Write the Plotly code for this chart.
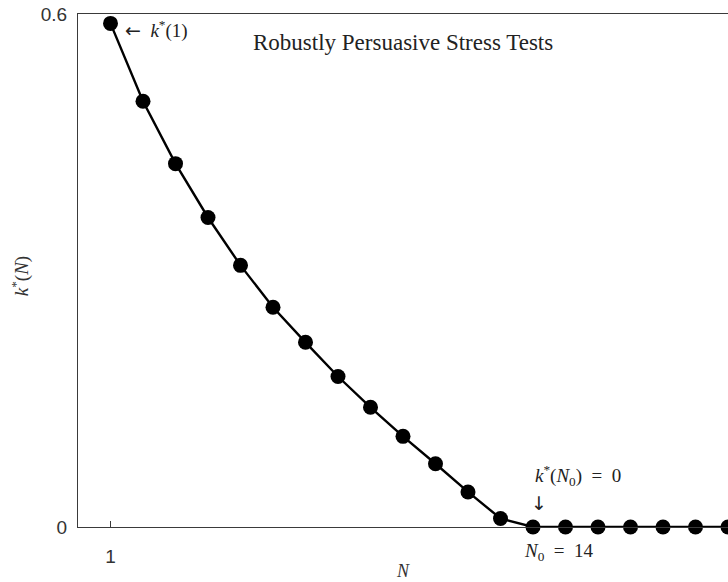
import plotly.graph_objects as go

N = list(range(1, 21))
k_star = [0.589, 0.498, 0.425, 0.362, 0.306, 0.257, 0.216, 0.176, 0.140, 0.106,
          0.074, 0.041, 0.010, 0, 0, 0, 0, 0, 0, 0]
x_ticks = [1]
x_tick_labels = ["1"]
y_ticks = [0, 0.6]
y_tick_labels = ["0", "0.6"]

serif = "Liberation Serif, Times New Roman, serif"
sans = "Liberation Sans, Arial, sans-serif"
axis_col = "#3a3a3a"
arrow_span = '<span style="font-family:DejaVu Sans">{}</span>'

fig = go.Figure()
fig.add_trace(go.Scatter(
    x=N, y=k_star, mode="lines+markers",
    line=dict(color="black", width=2.4),
    marker=dict(color="black", size=15),
    cliponaxis=False, showlegend=False,
))

common = dict(ticks="inside", ticklen=6, tickcolor=axis_col, tickwidth=1,
              showline=True, linecolor=axis_col, linewidth=1, mirror=True,
              showgrid=False, zeroline=False, automargin=False,
              tickfont=dict(family=sans, size=19, color="#333"))

fig.update_layout(
    width=728, height=582,
    margin=dict(l=78, r=0, t=14, b=55),
    plot_bgcolor="white", paper_bgcolor="white",
    xaxis=dict(range=[0, 20], tickvals=x_ticks, ticktext=x_tick_labels,
               ticklabelstandoff=12, **common),
    yaxis=dict(range=[0, 0.6], tickvals=y_ticks, ticktext=y_tick_labels,
               ticklabelstandoff=6, **common),
)

txt = dict(family=serif, size=19, color="#222")

# axis titles
fig.add_annotation(x=0.5, y=-0.086, xref="paper", yref="paper", showarrow=False,
                   text="<i>N</i>", font=dict(family=serif, size=18, color="#333"),
                   xanchor="center", yanchor="middle")
fig.add_annotation(x=-0.089, y=0.489, xref="paper", yref="paper", showarrow=False,
                   text="<i>k</i><sup>*</sup>(<i>N</i>)", textangle=-90,
                   font=dict(family=serif, size=19, color="#333"),
                   xanchor="center", yanchor="middle")

# title inside the plot
fig.add_annotation(x=0.5, y=0.945, xref="paper", yref="paper", showarrow=False,
                   text="Robustly Persuasive Stress Tests",
                   font=dict(family=serif, size=23, color="#222"),
                   xanchor="center", yanchor="middle")

fig.add_annotation(x=1.38, y=0.969, xref="x", yref="paper", showarrow=False, xanchor="left",
                   text=arrow_span.format("←") + "  <i>k</i><sup>*</sup>(1)", font=txt, yanchor="middle")
fig.add_annotation(x=14.0, y=0.101, xref="x", yref="paper", showarrow=False, xanchor="left",
                   text="<i>k</i><sup>*</sup>(<i>N</i><sub>0</sub>)  =  0", font=txt, yanchor="middle")
fig.add_annotation(x=14.18, y=0.047, xref="x", yref="paper", showarrow=False, xanchor="center",
                   text=arrow_span.format("↓"), font=txt, yanchor="middle")
fig.add_annotation(x=13.65, y=-0.0487, xref="x", yref="paper", showarrow=False, xanchor="left",
                   text="<i>N</i><sub>0</sub>  =  14", font=txt, yanchor="middle")

fig.write_html("out.html", config={"displayModeBar": False},
               post_script="document.body.style.margin='0';document.body.style.overflow='hidden';")
